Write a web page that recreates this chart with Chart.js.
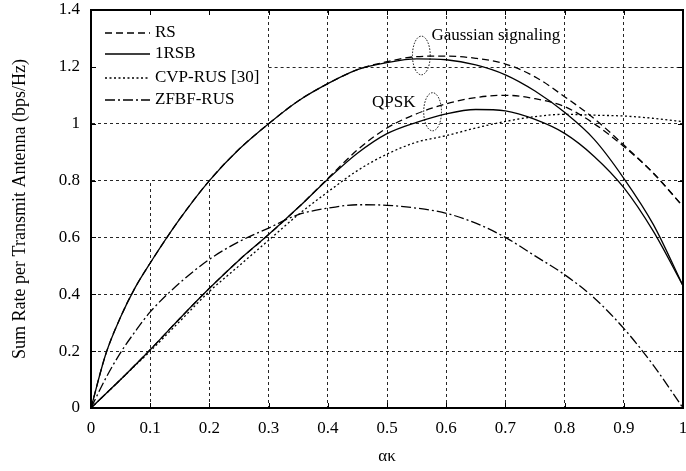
<!DOCTYPE html>
<html>
<head>
<meta charset="utf-8">
<script src="https://cdn.jsdelivr.net/npm/chart.js@4"></script>
<style>
  html, body { margin: 0; padding: 0; background: #fff; }
  #wrap { width: 686px; height: 471px; }
</style>
</head>
<body>
<div id="wrap"><canvas id="grafica" width="686" height="471"></canvas></div>
<script>
// alpha*kappa axis samples
const xs = [0, 0.025, 0.05, 0.075, 0.1, 0.15, 0.2, 0.25, 0.3, 0.35, 0.4, 0.45, 0.5, 0.55, 0.6, 0.65, 0.7, 0.75, 0.8, 0.85, 0.9, 0.95, 1];

// Gaussian signaling
const rsGauss   = [0, 0.19, 0.32, 0.425, 0.51, 0.665, 0.80, 0.91, 1.0, 1.08, 1.141, 1.19, 1.218, 1.236, 1.238, 1.23, 1.21, 1.165, 1.095, 1.018, 0.925, 0.826, 0.709];
const rsbGauss  = [0, 0.19, 0.32, 0.425, 0.51, 0.665, 0.80, 0.91, 1.0, 1.08, 1.141, 1.19, 1.215, 1.228, 1.225, 1.207, 1.172, 1.115, 1.04, 0.945, 0.808, 0.645, 0.43];
// QPSK
const rsQpsk    = [0, 0.05, 0.10, 0.152, 0.205, 0.315, 0.421, 0.52, 0.61, 0.705, 0.807, 0.908, 0.985, 1.035, 1.07, 1.092, 1.10, 1.088, 1.06, 1.0, 0.92, 0.826, 0.709];
const rsbQpsk   = [0, 0.05, 0.10, 0.152, 0.205, 0.315, 0.421, 0.52, 0.61, 0.705, 0.805, 0.896, 0.965, 1.005, 1.035, 1.05, 1.045, 1.015, 0.966, 0.885, 0.775, 0.621, 0.43];
// reference schemes
const cvpRus    = [0, 0.05, 0.10, 0.15, 0.20, 0.305, 0.41, 0.50, 0.59, 0.68, 0.76, 0.835, 0.893, 0.935, 0.958, 0.985, 1.008, 1.025, 1.033, 1.03, 1.027, 1.019, 1.007];
const zfbfRus   = [0, 0.105, 0.195, 0.27, 0.338, 0.44, 0.523, 0.585, 0.633, 0.68, 0.703, 0.715, 0.713, 0.703, 0.685, 0.65, 0.60, 0.535, 0.469, 0.387, 0.28, 0.15, 0];

const legendLabels = ["RS", "1RSB", "CVP-RUS [30]", "ZFBF-RUS"];

const FONT = "'Liberation Serif', 'Times New Roman', serif";
const GRID = "rgba(0,0,0,0.85)";
const dashRS = [7, 4], dashCVP = [2, 2.5], dashZF = [10, 3, 2, 3], solid = [];

function pts(arr) { return xs.map((v, i) => ({ x: v, y: arr[i] })); }
function serie(label, arr, dash) {
  return {
    label: label, data: pts(arr), borderColor: "#000", borderWidth: 1.3,
    borderDash: dash, pointRadius: 0, fill: false, cubicInterpolationMode: "monotone"
  };
}

const datos = {
  datasets: [
    serie("RS", rsGauss, dashRS),
    serie("1RSB", rsbGauss, solid),
    serie("RS", rsQpsk, dashRS),
    serie("1RSB", rsbQpsk, solid),
    serie("CVP-RUS [30]", cvpRus, dashCVP),
    serie("ZFBF-RUS", zfbfRus, dashZF)
  ]
};

// grid lines that are cut short in the original (hidden behind the legend)
const shortGridX = [{ at: 0.1, to: 0.8 }, { at: 0.2, to: 0.8 }];
const shortGridY = [{ at: 1.2, from: 0.3 }];

// annotations: ellipses around the curve pairs, with their labels
const notes = [
  { text: "Gaussian signaling", tx: 0.575, ty: 1.31, align: "left",  cx: 0.558, cy: 1.24, rx: 0.015, ry: 0.068 },
  { text: "QPSK",               tx: 0.548, ty: 1.075, align: "right", cx: 0.577, cy: 1.042, rx: 0.015, ry: 0.067 }
];

const near = (a, b) => Math.abs(a - b) < 1e-6;
const fmt = v => String(Math.round(v * 10) / 10);

const extras = {
  id: "extras",
  beforeDatasetsDraw(chart) {
    const { ctx, scales: { x, y } } = chart;
    ctx.save();
    ctx.strokeStyle = GRID;
    ctx.lineWidth = 1;
    ctx.setLineDash([3, 3]);
    shortGridX.forEach(g => {
      const px = Math.round(x.getPixelForValue(g.at)) + 0.5;
      ctx.beginPath();
      ctx.moveTo(px, y.getPixelForValue(0));
      ctx.lineTo(px, y.getPixelForValue(g.to));
      ctx.stroke();
    });
    shortGridY.forEach(g => {
      const py = Math.round(y.getPixelForValue(g.at)) + 0.5;
      ctx.beginPath();
      ctx.moveTo(x.getPixelForValue(g.from), py);
      ctx.lineTo(x.getPixelForValue(1), py);
      ctx.stroke();
    });
    ctx.restore();
  },
  afterDatasetsDraw(chart) {
    const { ctx, chartArea: a, scales: { x, y } } = chart;
    ctx.save();
    // frame
    ctx.setLineDash([]);
    ctx.strokeStyle = "#000";
    ctx.lineWidth = 2;
    ctx.strokeRect(a.left, a.top, a.right - a.left, a.bottom - a.top);
    // inward ticks
    ctx.lineWidth = 1;
    ctx.beginPath();
    x.ticks.forEach(t => {
      const px = Math.round(x.getPixelForValue(t.value)) + 0.5;
      ctx.moveTo(px, a.bottom); ctx.lineTo(px, a.bottom - 5);
      ctx.moveTo(px, a.top); ctx.lineTo(px, a.top + 5);
    });
    y.ticks.forEach(t => {
      const py = Math.round(y.getPixelForValue(t.value)) + 0.5;
      ctx.moveTo(a.left, py); ctx.lineTo(a.left + 5, py);
      ctx.moveTo(a.right, py); ctx.lineTo(a.right - 5, py);
    });
    ctx.stroke();

    // legend
    const styles = [dashRS, solid, dashCVP, dashZF];
    const rows = [33, 54, 78, 100];
    ctx.font = "17px " + FONT;
    ctx.fillStyle = "#000";
    ctx.textBaseline = "middle";
    ctx.textAlign = "left";
    legendLabels.forEach((lab, i) => {
      ctx.setLineDash(styles[i]);
      ctx.lineWidth = 1.3;
      ctx.beginPath();
      ctx.moveTo(a.left + 14, rows[i]);
      ctx.lineTo(a.left + 59, rows[i]);
      ctx.stroke();
      ctx.fillText(lab, a.left + 64, rows[i]);
    });

    // annotations
    notes.forEach(n => {
      const cx = x.getPixelForValue(n.cx), cy = y.getPixelForValue(n.cy);
      const rx = x.getPixelForValue(n.cx + n.rx) - cx;
      const ry = cy - y.getPixelForValue(n.cy + n.ry);
      ctx.setLineDash([1.5, 1.5]);
      ctx.lineWidth = 1;
      ctx.beginPath();
      ctx.ellipse(cx, cy, rx, ry, 0, 0, Math.PI * 2);
      ctx.stroke();
      ctx.textAlign = n.align;
      ctx.fillText(n.text, x.getPixelForValue(n.tx), y.getPixelForValue(n.ty));
    });
    ctx.restore();
  }
};

new Chart(document.getElementById("grafica").getContext("2d"), {
  type: "line",
  data: datos,
  options: {
    responsive: false,
    animation: false,
    layout: { padding: { top: 10, right: 3, left: 0, bottom: 0 } },
    plugins: { legend: { display: false }, tooltip: { enabled: false } },
    scales: {
      x: {
        type: "linear", min: 0, max: 1,
        ticks: { stepSize: 0.1, color: "#000", padding: 10, font: { family: FONT, size: 17 }, callback: fmt },
        grid: {
          drawTicks: false, lineWidth: 1,
          color: c => (shortGridX.some(g => near(g.at, c.tick.value)) ? "rgba(0,0,0,0)" : GRID)
        },
        border: { display: true, color: "#000", width: 2, dash: [3, 3] },
        title: { display: true, text: "ακ", color: "#000", font: { family: FONT, size: 17 }, padding: { top: 0, bottom: 4 } },
        afterFit: s => { s.height = 63; s.paddingLeft = 0; s.paddingRight = 0; }
      },
      y: {
        min: 0, max: 1.4,
        ticks: { stepSize: 0.2, color: "#000", padding: 11, font: { family: FONT, size: 17 }, callback: fmt },
        grid: {
          drawTicks: false, lineWidth: 1,
          color: c => (shortGridY.some(g => near(g.at, c.tick.value)) ? "rgba(0,0,0,0)" : GRID)
        },
        border: { display: true, color: "#000", width: 2, dash: [3, 3] },
        title: { display: true, text: "Sum Rate per Transmit Antenna (bps/Hz)", color: "#000", font: { family: FONT, size: 18 }, padding: { top: 9, bottom: 0 } },
        afterFit: s => { s.width = 91; s.paddingTop = 0; s.paddingBottom = 0; }
      }
    }
  },
  plugins: [extras]
});
</script>
</body>
</html>
